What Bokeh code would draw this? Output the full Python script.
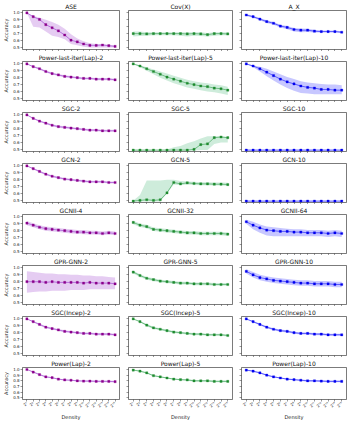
import math
from bokeh.plotting import figure
from bokeh.layouts import gridplot
from bokeh.models import Range1d, FixedTicker
from bokeh.embed import file_html
from bokeh.resources import INLINE

# ---------------- data ----------------
density = list(range(1, 16))
density_labels = ["2¹", "2²", "2³", "2⁴", "2⁵", "2⁶", "2⁷", "2⁸", "2⁹",
                  "2¹⁰", "2¹¹", "2¹²", "2¹³", "2¹⁴", "2¹⁵"]
acc_ticks = [0.5, 0.6, 0.7, 0.8, 0.9, 1.0]
acc_labels = ["0.5", "0.6", "0.7", "0.8", "0.9", "1.0"]

ase_mean = [1.0, 0.945, 0.905, 0.83, 0.785, 0.74, 0.68, 0.605, 0.58, 0.55, 0.53, 0.53, 0.535, 0.525, 0.515]
ase_lo = [1.0, 0.80, 0.79, 0.73, 0.67, 0.65, 0.62, 0.55, 0.53, 0.51, 0.50, 0.50, 0.50, 0.50, 0.50]
ase_hi = [1.0, 0.96, 0.93, 0.90, 0.87, 0.83, 0.77, 0.69, 0.63, 0.59, 0.56, 0.55, 0.55, 0.54, 0.53]

covx_mean = [0.70, 0.70, 0.695, 0.70, 0.70, 0.70, 0.70, 0.70, 0.695, 0.70, 0.695, 0.685, 0.70, 0.70, 0.695]
covx_lo = [0.66, 0.665, 0.67, 0.675, 0.675, 0.675, 0.675, 0.67, 0.66, 0.67, 0.665, 0.66, 0.67, 0.675, 0.675]
covx_hi = [0.73, 0.73, 0.72, 0.72, 0.72, 0.72, 0.72, 0.72, 0.72, 0.72, 0.72, 0.71, 0.72, 0.72, 0.72]

ax_mean = [0.97, 0.945, 0.91, 0.875, 0.85, 0.81, 0.79, 0.76, 0.75, 0.75, 0.735, 0.73, 0.73, 0.73, 0.72]
ax_lo = [0.955, 0.93, 0.895, 0.855, 0.83, 0.79, 0.765, 0.73, 0.72, 0.725, 0.715, 0.715, 0.715, 0.715, 0.71]
ax_hi = [0.985, 0.96, 0.925, 0.895, 0.87, 0.83, 0.81, 0.78, 0.775, 0.77, 0.755, 0.745, 0.745, 0.745, 0.735]

pli2_mean = [1.0, 0.96, 0.93, 0.89, 0.86, 0.84, 0.82, 0.81, 0.80, 0.79, 0.79, 0.78, 0.78, 0.78, 0.77]
pli2_lo = [1.0, 0.95, 0.915, 0.875, 0.845, 0.825, 0.805, 0.795, 0.785, 0.775, 0.775, 0.765, 0.765, 0.765, 0.755]
pli2_hi = [1.0, 0.97, 0.945, 0.905, 0.875, 0.855, 0.835, 0.825, 0.815, 0.805, 0.805, 0.795, 0.795, 0.795, 0.785]

pli5_mean = [1.0, 0.97, 0.93, 0.89, 0.85, 0.81, 0.78, 0.75, 0.72, 0.70, 0.68, 0.67, 0.65, 0.64, 0.62]
pli5_lo = [1.0, 0.95, 0.90, 0.85, 0.80, 0.76, 0.72, 0.69, 0.66, 0.64, 0.62, 0.60, 0.59, 0.57, 0.55]
pli5_hi = [1.0, 0.98, 0.95, 0.92, 0.89, 0.86, 0.83, 0.80, 0.77, 0.75, 0.73, 0.72, 0.70, 0.69, 0.67]

pli10_mean = [1.0, 0.97, 0.93, 0.88, 0.83, 0.78, 0.74, 0.71, 0.68, 0.66, 0.65, 0.63, 0.63, 0.62, 0.62]
pli10_lo = [1.0, 0.95, 0.89, 0.82, 0.76, 0.70, 0.65, 0.61, 0.58, 0.57, 0.56, 0.56, 0.56, 0.56, 0.56]
pli10_hi = [1.0, 0.98, 0.96, 0.93, 0.89, 0.85, 0.81, 0.78, 0.75, 0.73, 0.72, 0.71, 0.70, 0.70, 0.69]

sgc2_mean = [1.0, 0.95, 0.91, 0.88, 0.85, 0.83, 0.82, 0.81, 0.80, 0.79, 0.78, 0.78, 0.77, 0.77, 0.77]
sgc2_lo = [1.0, 0.94, 0.90, 0.865, 0.835, 0.815, 0.805, 0.795, 0.785, 0.775, 0.765, 0.765, 0.755, 0.755, 0.755]
sgc2_hi = [1.0, 0.96, 0.92, 0.895, 0.865, 0.845, 0.835, 0.825, 0.815, 0.805, 0.795, 0.795, 0.785, 0.785, 0.785]

sgc5_mean = [0.49, 0.49, 0.49, 0.49, 0.49, 0.49, 0.49, 0.49, 0.49, 0.50, 0.57, 0.58, 0.67, 0.68, 0.67]
sgc5_lo = [0.485, 0.485, 0.485, 0.485, 0.485, 0.485, 0.485, 0.485, 0.485, 0.485, 0.49, 0.49, 0.58, 0.60, 0.60]
sgc5_hi = [0.495, 0.495, 0.495, 0.495, 0.495, 0.50, 0.53, 0.55, 0.59, 0.62, 0.66, 0.69, 0.69, 0.69, 0.68]

sgc10_mean = [0.49] * 15
sgc10_lo = [0.485] * 15
sgc10_hi = [0.495] * 15

gcn2_mean = [1.0, 0.96, 0.92, 0.88, 0.85, 0.83, 0.81, 0.80, 0.79, 0.78, 0.77, 0.77, 0.77, 0.76, 0.76]
gcn2_lo = [1.0, 0.95, 0.905, 0.865, 0.835, 0.815, 0.795, 0.785, 0.775, 0.765, 0.755, 0.755, 0.755, 0.745, 0.745]
gcn2_hi = [1.0, 0.97, 0.935, 0.895, 0.865, 0.845, 0.825, 0.815, 0.805, 0.795, 0.785, 0.785, 0.785, 0.775, 0.775]

gcn5_mean = [0.49, 0.50, 0.51, 0.50, 0.51, 0.61, 0.76, 0.74, 0.755, 0.745, 0.74, 0.74, 0.735, 0.735, 0.73]
gcn5_lo = [0.485, 0.485, 0.485, 0.485, 0.485, 0.60, 0.73, 0.72, 0.73, 0.725, 0.72, 0.72, 0.715, 0.715, 0.71]
gcn5_hi = [0.495, 0.58, 0.79, 0.79, 0.79, 0.80, 0.80, 0.78, 0.775, 0.77, 0.765, 0.765, 0.76, 0.76, 0.755]

gcn10_mean = [0.49] * 15
gcn10_lo = [0.485] * 15
gcn10_hi = [0.495] * 15

gcnii4_mean = [0.91, 0.88, 0.85, 0.83, 0.82, 0.81, 0.80, 0.79, 0.78, 0.78, 0.77, 0.77, 0.76, 0.77, 0.76]
gcnii4_lo = [0.88, 0.85, 0.82, 0.80, 0.79, 0.78, 0.77, 0.76, 0.755, 0.75, 0.745, 0.745, 0.735, 0.745, 0.735]
gcnii4_hi = [0.94, 0.91, 0.88, 0.86, 0.85, 0.84, 0.83, 0.82, 0.81, 0.81, 0.80, 0.80, 0.79, 0.80, 0.79]

gcnii32_mean = [0.92, 0.88, 0.86, 0.82, 0.81, 0.80, 0.79, 0.78, 0.77, 0.77, 0.76, 0.76, 0.76, 0.76, 0.75]
gcnii32_lo = [0.895, 0.855, 0.835, 0.795, 0.785, 0.775, 0.765, 0.755, 0.745, 0.745, 0.735, 0.735, 0.735, 0.735, 0.725]
gcnii32_hi = [0.945, 0.905, 0.885, 0.845, 0.835, 0.825, 0.815, 0.805, 0.795, 0.795, 0.785, 0.785, 0.785, 0.785, 0.775]

gcnii64_mean = [0.93, 0.88, 0.84, 0.81, 0.80, 0.79, 0.79, 0.78, 0.78, 0.77, 0.77, 0.77, 0.76, 0.77, 0.76]
gcnii64_lo = [0.90, 0.82, 0.77, 0.73, 0.72, 0.72, 0.72, 0.72, 0.72, 0.72, 0.72, 0.72, 0.71, 0.72, 0.71]
gcnii64_hi = [0.96, 0.93, 0.89, 0.86, 0.85, 0.84, 0.83, 0.82, 0.82, 0.81, 0.81, 0.81, 0.80, 0.81, 0.80]

gpr2_mean = [0.80, 0.80, 0.80, 0.79, 0.80, 0.79, 0.79, 0.79, 0.79, 0.78, 0.79, 0.78, 0.78, 0.78, 0.77]
gpr2_lo = [0.64, 0.65, 0.66, 0.66, 0.67, 0.67, 0.67, 0.68, 0.68, 0.68, 0.69, 0.69, 0.69, 0.69, 0.69]
gpr2_hi = [0.95, 0.94, 0.93, 0.92, 0.92, 0.91, 0.91, 0.90, 0.90, 0.89, 0.89, 0.88, 0.88, 0.87, 0.86]

gpr5_mean = [0.94, 0.89, 0.85, 0.83, 0.81, 0.80, 0.79, 0.78, 0.78, 0.77, 0.77, 0.77, 0.76, 0.76, 0.76]
gpr5_lo = [0.92, 0.87, 0.83, 0.81, 0.79, 0.78, 0.77, 0.76, 0.76, 0.75, 0.75, 0.75, 0.74, 0.74, 0.74]
gpr5_hi = [0.96, 0.91, 0.87, 0.85, 0.83, 0.82, 0.81, 0.80, 0.80, 0.79, 0.79, 0.79, 0.78, 0.78, 0.78]

gpr10_mean = [0.95, 0.90, 0.86, 0.84, 0.82, 0.81, 0.80, 0.79, 0.78, 0.78, 0.77, 0.77, 0.77, 0.76, 0.76]
gpr10_lo = [0.92, 0.86, 0.82, 0.80, 0.78, 0.77, 0.76, 0.75, 0.74, 0.74, 0.73, 0.73, 0.73, 0.72, 0.72]
gpr10_hi = [0.98, 0.94, 0.90, 0.88, 0.86, 0.85, 0.84, 0.83, 0.82, 0.82, 0.81, 0.81, 0.81, 0.80, 0.80]

sgci2_mean = [1.0, 0.96, 0.92, 0.88, 0.86, 0.84, 0.82, 0.81, 0.80, 0.79, 0.79, 0.78, 0.78, 0.78, 0.77]
sgci2_lo = [1.0, 0.95, 0.905, 0.865, 0.845, 0.825, 0.805, 0.795, 0.785, 0.775, 0.775, 0.765, 0.765, 0.765, 0.755]
sgci2_hi = [1.0, 0.97, 0.935, 0.895, 0.875, 0.855, 0.835, 0.825, 0.815, 0.805, 0.805, 0.795, 0.795, 0.795, 0.785]

sgci5_mean = [1.0, 0.96, 0.91, 0.87, 0.85, 0.83, 0.81, 0.80, 0.79, 0.78, 0.78, 0.77, 0.77, 0.77, 0.76]
sgci5_lo = [1.0, 0.95, 0.895, 0.855, 0.835, 0.815, 0.795, 0.785, 0.775, 0.765, 0.765, 0.755, 0.755, 0.755, 0.745]
sgci5_hi = [1.0, 0.97, 0.925, 0.885, 0.865, 0.845, 0.825, 0.815, 0.805, 0.795, 0.795, 0.785, 0.785, 0.785, 0.775]

sgci10_mean = [1.0, 0.96, 0.92, 0.88, 0.85, 0.83, 0.82, 0.80, 0.79, 0.79, 0.78, 0.78, 0.77, 0.77, 0.77]
sgci10_lo = [1.0, 0.95, 0.905, 0.865, 0.835, 0.815, 0.805, 0.785, 0.775, 0.775, 0.765, 0.765, 0.755, 0.755, 0.755]
sgci10_hi = [1.0, 0.97, 0.935, 0.895, 0.865, 0.845, 0.835, 0.815, 0.805, 0.805, 0.795, 0.795, 0.785, 0.785, 0.785]

plap2_mean = [1.0, 0.955, 0.91, 0.87, 0.855, 0.83, 0.815, 0.81, 0.80, 0.795, 0.795, 0.79, 0.79, 0.79, 0.785]
plap2_lo = [1.0, 0.945, 0.90, 0.86, 0.845, 0.82, 0.805, 0.80, 0.79, 0.785, 0.78, 0.775, 0.775, 0.775, 0.77]
plap2_hi = [1.0, 0.965, 0.92, 0.88, 0.865, 0.84, 0.825, 0.82, 0.81, 0.805, 0.81, 0.805, 0.805, 0.805, 0.80]

plap5_mean = [0.99, 0.97, 0.94, 0.89, 0.87, 0.85, 0.83, 0.82, 0.815, 0.80, 0.80, 0.80, 0.79, 0.79, 0.79]
plap5_lo = [0.985, 0.96, 0.93, 0.88, 0.86, 0.84, 0.82, 0.81, 0.80, 0.785, 0.785, 0.785, 0.775, 0.775, 0.775]
plap5_hi = [0.995, 0.98, 0.95, 0.90, 0.88, 0.86, 0.84, 0.83, 0.83, 0.815, 0.815, 0.815, 0.805, 0.805, 0.805]

plap10_mean = [0.99, 0.97, 0.94, 0.90, 0.87, 0.85, 0.83, 0.82, 0.81, 0.80, 0.80, 0.795, 0.79, 0.79, 0.79]
plap10_lo = [0.985, 0.96, 0.93, 0.89, 0.86, 0.84, 0.82, 0.81, 0.795, 0.785, 0.785, 0.78, 0.775, 0.775, 0.775]
plap10_hi = [0.995, 0.98, 0.95, 0.91, 0.88, 0.86, 0.84, 0.83, 0.825, 0.815, 0.815, 0.81, 0.805, 0.805, 0.805]

titles = [
    ["ASE", "Cov(X)", "A_X"],
    ["Power-last-iter(Lap)-2", "Power-last-iter(Lap)-5", "Power-last-iter(Lap)-10"],
    ["SGC-2", "SGC-5", "SGC-10"],
    ["GCN-2", "GCN-5", "GCN-10"],
    ["GCNII-4", "GCNII-32", "GCNII-64"],
    ["GPR-GNN-2", "GPR-GNN-5", "GPR-GNN-10"],
    ["SGC(Incep)-2", "SGC(Incep)-5", "SGC(Incep)-10"],
    ["Power(Lap)-2", "Power(Lap)-5", "Power(Lap)-10"],
]
series = [
    [(ase_mean, ase_lo, ase_hi), (covx_mean, covx_lo, covx_hi), (ax_mean, ax_lo, ax_hi)],
    [(pli2_mean, pli2_lo, pli2_hi), (pli5_mean, pli5_lo, pli5_hi), (pli10_mean, pli10_lo, pli10_hi)],
    [(sgc2_mean, sgc2_lo, sgc2_hi), (sgc5_mean, sgc5_lo, sgc5_hi), (sgc10_mean, sgc10_lo, sgc10_hi)],
    [(gcn2_mean, gcn2_lo, gcn2_hi), (gcn5_mean, gcn5_lo, gcn5_hi), (gcn10_mean, gcn10_lo, gcn10_hi)],
    [(gcnii4_mean, gcnii4_lo, gcnii4_hi), (gcnii32_mean, gcnii32_lo, gcnii32_hi), (gcnii64_mean, gcnii64_lo, gcnii64_hi)],
    [(gpr2_mean, gpr2_lo, gpr2_hi), (gpr5_mean, gpr5_lo, gpr5_hi), (gpr10_mean, gpr10_lo, gpr10_hi)],
    [(sgci2_mean, sgci2_lo, sgci2_hi), (sgci5_mean, sgci5_lo, sgci5_hi), (sgci10_mean, sgci10_lo, sgci10_hi)],
    [(plap2_mean, plap2_lo, plap2_hi), (plap5_mean, plap5_lo, plap5_hi), (plap10_mean, plap10_lo, plap10_hi)],
]

# ---------------- styles ----------------
line_colors = ["#9932cc", "#2e9e48", "#1010ff"]
marker_colors = ["#8b008b", "#1f8a2f", "#0000ee"]
fill_colors = ["#9932cc", "#3cb371", "#2020ff"]
fill_alphas = [0.25, 0.25, 0.25]

FONT = "DejaVu Sans"
col_left = [18, 5, 5]
col_frame = [101, 104, 105]
col_right = [4, 4, 7]
row_top = 8
row_frame = 41
row_bottom = [2, 2, 2, 2, 2, 2, 2, 17]

figs = []
for r in range(8):
    row = []
    for c in range(3):
        mean, lo, hi = series[r][c]
        w = col_left[c] + col_frame[c] + col_right[c]
        h = row_top + row_frame + row_bottom[r]
        p = figure(width=w, height=h, output_backend="svg", toolbar_location=None,
                   x_range=Range1d(0.3, 15.7), y_range=Range1d(0.47, 1.035),
                   min_border_left=col_left[c], min_border_right=col_right[c],
                   min_border_top=row_top, min_border_bottom=row_bottom[r],
                   title=titles[r][c])
        p.title.text_font = FONT
        p.title.text_font_size = "6px"
        p.title.text_font_style = "normal"
        p.title.text_color = "#111111"
        p.title.align = "center"
        p.title.standoff = 1
        p.title.offset = 0
        p.outline_line_color = "#222222"
        p.outline_line_width = 0.6
        p.xgrid.visible = False
        p.ygrid.visible = False
        p.background_fill_color = "white"
        p.border_fill_color = "white"

        xa = p.xaxis[0]
        xa.ticker = FixedTicker(ticks=density)
        xa.axis_line_color = None
        xa.major_tick_line_color = "#333333"
        xa.major_tick_line_width = 0.5
        xa.major_tick_out = 2
        xa.major_tick_in = 0
        xa.minor_tick_line_color = None
        xa.major_label_text_font = FONT
        xa.major_label_standoff = 1
        if r == 7:
            xa.major_label_overrides = {d: lab for d, lab in zip(density, density_labels)}
            xa.major_label_orientation = math.pi / 4
            xa.major_label_text_font_size = "4px"
            xa.major_label_text_color = "#222222"
            xa.axis_label = "Density"
            xa.axis_label_text_font = FONT
            xa.axis_label_text_font_size = "5px"
            xa.axis_label_text_font_style = "normal"
            xa.axis_label_text_color = "#222222"
            xa.axis_label_standoff = 1
        else:
            xa.major_label_text_font_size = "0px"
            xa.major_label_text_color = None
            xa.major_label_standoff = 0

        ya = p.yaxis[0]
        ya.ticker = FixedTicker(ticks=acc_ticks)
        ya.axis_line_color = None
        ya.major_tick_line_color = "#333333"
        ya.major_tick_line_width = 0.5
        ya.major_tick_out = 2
        ya.major_tick_in = 0
        ya.minor_tick_line_color = None
        ya.major_label_text_font = FONT
        if c == 0:
            ya.major_label_overrides = {t: lab for t, lab in zip(acc_ticks, acc_labels)}
            ya.major_label_text_font_size = "4px"
            ya.major_label_text_color = "#222222"
            ya.major_label_standoff = 1
            ya.axis_label = "Accuracy"
            ya.axis_label_text_font = FONT
            ya.axis_label_text_font_size = "5px"
            ya.axis_label_text_font_style = "normal"
            ya.axis_label_text_color = "#222222"
            ya.axis_label_standoff = 1
        else:
            ya.major_label_text_font_size = "0px"
            ya.major_label_text_color = None
            ya.major_label_standoff = 0

        p.varea(x=density, y1=lo, y2=hi, fill_color=fill_colors[c], fill_alpha=fill_alphas[c])
        p.line(x=density, y=mean, line_color=line_colors[c], line_width=0.6)
        p.scatter(x=density, y=mean, marker="square", size=2.2,
                  fill_color=marker_colors[c], line_color=marker_colors[c], line_width=0.3)
        row.append(p)
    figs.append(row)

grid = gridplot(figs, toolbar_location=None, merge_tools=False)

open("out.html", "w").write(file_html(grid, INLINE))
